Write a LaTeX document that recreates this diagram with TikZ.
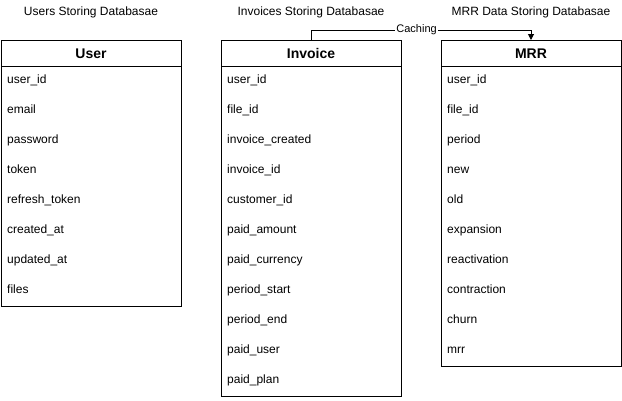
\documentclass[tikz,border=0pt]{standalone}
\usepackage{fontspec}
\setmainfont{Liberation Sans}
\usetikzlibrary{arrows.meta}
\begin{document}
\begin{tikzpicture}[x=1pt,y=-1pt,
  tbox/.style={draw=black,line width=1pt,fill=white},
  hdr/.style={font=\fontsize{14}{16}\selectfont\bfseries,anchor=center,inner sep=0pt,text height=10pt,text depth=0pt},
  row/.style={font=\fontsize{12}{14}\selectfont,anchor=west,inner sep=0pt,text height=9pt,text depth=3pt},
  ttl/.style={font=\fontsize{12}{14}\selectfont,anchor=center,inner sep=0pt,text height=9pt,text depth=3pt},
  lbl/.style={font=\fontsize{11}{13}\selectfont,fill=white,inner sep=1pt}]
\useasboundingbox (0,0) rectangle (622,400);
% titles
\node[ttl] (t1) at (91,12) {Users Storing Databasae};
\node[ttl] (t2) at (311,12) {Invoices Storing Databasae};
\node[ttl] (t3) at (531,12) {MRR Data Storing Databasae};
% User table
\draw[tbox] (1,40) rectangle (181,306);
\draw[line width=1pt] (1,66) -- (181,66);
\node[hdr] (uh) at (91,53) {User};
\foreach \t [count=\i from 0] in {user\_id,email,password,token,refresh\_token,created\_at,updated\_at,files}
  \node[row] (u\i) at (7,80+30*\i) {\t};
% Invoice table
\draw[tbox] (221,40) rectangle (401,396);
\draw[line width=1pt] (221,66) -- (401,66);
\node[hdr] (ih) at (311,53) {Invoice};
\coordinate (itop) at (311,40);
\foreach \t [count=\i from 0] in {user\_id,file\_id,invoice\_created,invoice\_id,customer\_id,paid\_amount,paid\_currency,period\_start,period\_end,paid\_user,paid\_plan}
  \node[row] (i\i) at (227,80+30*\i) {\t};
% MRR table
\draw[tbox] (441,40) rectangle (621,366);
\draw[line width=1pt] (441,66) -- (621,66);
\node[hdr] (mh) at (531,53) {MRR};
\coordinate (mtop) at (531,40);
\foreach \t [count=\i from 0] in {user\_id,file\_id,period,new,old,expansion,reactivation,contraction,churn,mrr}
  \node[row] (m\i) at (447,80+30*\i) {\t};
% Caching edge
\draw[line width=1pt,-{Triangle[length=6pt,width=6pt]}] (itop) -- (311,30) -- node[lbl,pos=0.48] (cl) {Caching} (531,30) -- (mtop);
\end{tikzpicture}
\end{document}
